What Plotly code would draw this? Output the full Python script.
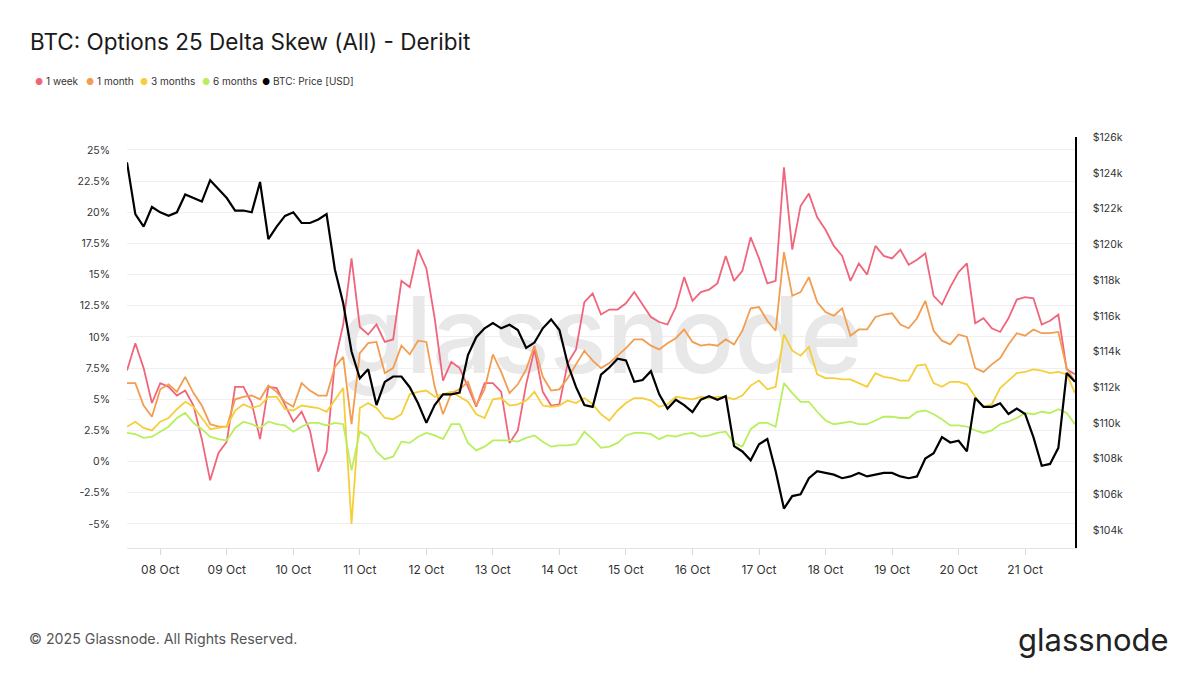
import pandas as pd
import plotly.graph_objects as go

# 3-hourly samples, 07 Oct 12:00 -> 21 Oct 18:00
start_time = "2025-10-07 12:00"
n_points = 115

# 25 delta skew (%)
skew_1w = [7.3, 9.5, 7.5, 4.7, 6.3, 6.0, 5.3, 5.7, 4.5, 1.8, -1.5, 0.7, 1.6, 6.0, 6.0, 4.7,
           1.8, 6.0, 5.9, 4.5, 3.2, 4.0, 2.5, -0.8, 0.8, 8.0, 11.0, 16.3, 10.8, 10.2, 11.0, 9.6,
           9.8, 14.5, 14.0, 17.0, 15.5, 11.5, 6.5, 8.0, 7.5, 6.0, 4.4, 6.3, 6.3, 5.6, 1.5, 2.5,
           6.2, 9.0, 5.6, 4.5, 4.6, 7.9, 9.0, 12.8, 13.5, 11.8, 12.2, 12.2, 12.7, 13.6, 12.6, 11.6,
           11.2, 11.0, 12.4, 14.8, 12.9, 13.6, 13.8, 14.3, 16.5, 14.5, 15.3, 18.0, 16.3, 14.3, 14.5, 23.6,
           17.0, 20.5, 21.5, 19.6, 18.6, 17.3, 16.5, 14.5, 15.9, 15.0, 17.3, 16.5, 16.3, 17.0, 15.8, 16.2,
           16.7, 13.3, 12.6, 14.0, 15.2, 15.9, 11.1, 11.5, 10.7, 10.4, 11.5, 13.0, 13.2, 13.1, 11.0, 11.3,
           11.8, 7.4, 7.0]

skew_1m = [6.3, 6.3, 4.5, 3.6, 5.8, 6.2, 5.6, 6.8, 5.5, 4.5, 3.0, 2.8, 2.8, 5.0, 5.2, 5.3,
           5.0, 6.1, 5.6, 4.8, 4.4, 6.3, 5.7, 5.3, 5.3, 7.6, 8.4, 3.0, 8.7, 9.5, 9.6, 7.1,
           7.5, 9.3, 8.6, 9.7, 9.6, 6.0, 3.8, 5.5, 5.8, 6.4, 4.5, 5.8, 8.6, 7.2, 5.5, 6.2,
           7.4, 9.3, 6.8, 5.7, 5.8, 6.7, 7.8, 8.9, 8.1, 7.5, 7.9, 8.5, 9.1, 9.8, 9.8, 9.3,
           9.0, 9.5, 9.9, 10.6, 9.6, 9.3, 9.4, 9.3, 9.8, 9.4, 10.5, 12.3, 12.4, 11.3, 10.5, 16.8,
           13.3, 13.6, 14.8, 12.8, 12.0, 11.7, 12.3, 10.1, 10.6, 10.6, 11.6, 11.8, 11.9, 11.0, 10.7, 11.5,
           12.9, 10.5, 9.7, 9.4, 10.2, 10.0, 7.5, 7.2, 7.8, 8.3, 9.4, 10.3, 10.1, 10.6, 10.3, 10.3,
           10.4, 7.5, 6.4]

skew_3m = [2.8, 3.2, 2.7, 2.5, 3.2, 3.5, 4.2, 4.8, 4.4, 3.5, 2.6, 2.7, 2.8, 4.1, 4.6, 4.3,
           4.5, 5.2, 5.2, 4.2, 4.1, 4.5, 4.4, 4.3, 4.0, 5.0, 5.9, -5.0, 4.3, 4.7, 4.3, 3.5,
           3.4, 3.8, 5.4, 5.6, 5.7, 5.2, 5.4, 5.6, 5.2, 4.8, 3.8, 3.5, 5.0, 5.1, 4.5, 4.6,
           4.9, 5.6, 4.5, 4.4, 4.5, 4.9, 4.7, 5.1, 4.6, 3.8, 3.3, 4.1, 4.7, 5.1, 5.1, 4.9,
           4.4, 4.6, 5.2, 5.1, 5.0, 5.2, 5.1, 5.2, 5.2, 5.0, 5.3, 6.1, 6.5, 5.8, 6.0, 10.2,
           8.9, 8.5, 9.2, 7.0, 6.7, 6.7, 6.6, 6.6, 6.3, 6.0, 7.1, 6.8, 6.7, 6.5, 6.5, 7.7,
           7.8, 6.3, 6.0, 6.4, 6.4, 6.2, 5.2, 4.4, 4.6, 5.9, 6.5, 7.1, 7.2, 7.4, 7.3, 7.1,
           7.2, 7.0, 5.5]

skew_6m = [2.3, 2.2, 1.9, 2.0, 2.4, 2.8, 3.5, 3.9, 3.1, 2.6, 2.0, 1.8, 1.7, 2.7, 3.2, 3.0,
           2.7, 3.2, 3.0, 2.9, 2.4, 2.8, 3.1, 3.1, 2.9, 3.1, 3.0, -0.7, 2.4, 2.0, 0.8, 0.2,
           0.4, 1.6, 1.5, 2.0, 2.3, 2.1, 1.8, 3.0, 3.0, 1.5, 0.9, 1.2, 1.7, 1.7, 1.7, 1.6,
           1.9, 2.1, 1.6, 1.2, 1.3, 1.3, 1.4, 2.4, 1.8, 1.1, 1.2, 1.5, 2.1, 2.3, 2.3, 2.2,
           1.8, 2.1, 2.0, 2.2, 2.3, 2.0, 2.1, 2.3, 2.4, 1.5, 1.2, 2.6, 3.1, 3.1, 2.8, 6.3,
           5.5, 4.8, 4.8, 4.0, 3.3, 3.0, 3.1, 3.2, 3.0, 3.0, 3.3, 3.6, 3.6, 3.5, 3.5, 4.0,
           4.1, 3.8, 3.4, 2.9, 2.9, 2.8, 2.5, 2.3, 2.5, 3.0, 3.2, 3.5, 3.9, 3.8, 4.0, 3.9,
           4.2, 3.9, 3.0]

# BTC price in thousands of USD
btc_price_k = [124.6, 121.7, 121.0, 122.1, 121.8, 121.6, 121.8, 122.8, 122.6, 122.4, 123.6, 123.1, 122.6, 121.9, 121.9, 121.8,
               123.5, 120.3, 121.0, 121.6, 121.8, 121.2, 121.2, 121.4, 121.7, 118.6, 116.7, 114.0, 112.5, 113.0, 111.0, 112.3,
               112.6, 112.6, 112.0, 111.1, 110.0, 111.0, 111.6, 111.6, 111.7, 113.8, 114.8, 115.3, 115.6, 115.3, 115.5, 115.2,
               114.2, 114.5, 115.3, 115.8, 115.2, 113.3, 112.0, 111.0, 110.9, 112.7, 113.1, 113.6, 113.5, 112.3, 112.4, 112.9,
               111.6, 110.8, 111.3, 111.0, 110.6, 111.3, 111.5, 111.3, 111.5, 108.7, 108.4, 107.9, 108.8, 109.1, 107.3, 105.2,
               105.9, 106.0, 106.9, 107.3, 107.2, 107.1, 106.9, 107.0, 107.2, 107.0, 107.1, 107.2, 107.2, 107.0, 106.9, 107.0,
               108.0, 108.3, 109.2, 108.9, 109.0, 108.4, 111.4, 110.9, 110.9, 111.1, 110.5, 110.8, 110.5, 109.2, 107.6, 107.7,
               108.6, 112.8, 112.3]

series_names = ["1 week", "1 month", "3 months", "6 months"]
series_colors = ["#f0657b", "#f29d50", "#f5cf3a", "#b9ef5e"]
price_name = "BTC: Price [USD]"

pct_ticks = [-5, -2.5, 0, 2.5, 5, 7.5, 10, 12.5, 15, 17.5, 20, 22.5, 25]
pct_labels = ["-5%", "-2.5%", "0%", "2.5%", "5%", "7.5%", "10%", "12.5%", "15%", "17.5%", "20%", "22.5%", "25%"]
price_ticks = list(range(104, 127, 2))
price_labels = [f"${v}k" for v in price_ticks]

times = pd.date_range(start_time, periods=n_points, freq="3h")

# plot area in pixels (1200x675 page)
PL, PR, PT, PB = 127, 1075, 137, 548
pct_range = [-6.93, 26.04]
price_range = [102.99, 126.02]


def px_x(px):
    return (px - PL) / (PR - PL)


def px_y(py):
    return (PB - py) / (PB - PT)


fig = go.Figure()

# watermark, drawn first so the lines sit on top of it
fig.add_trace(go.Scatter(
    x=[times[len(times) // 2]],
    y=[sum(pct_range) / 2 - 0.3],
    mode="text",
    text=["glassnode"],
    textfont=dict(size=106, color="#e8e8e8", family="Inter", weight=500),
    hoverinfo="skip",
    showlegend=False,
))

for name, color, vals in zip(series_names, series_colors, [skew_1w, skew_1m, skew_3m, skew_6m]):
    fig.add_trace(go.Scatter(
        x=times, y=vals, name=name, mode="lines",
        line=dict(color=color, width=1.8),
        showlegend=False,
    ))

fig.add_trace(go.Scatter(
    x=times, y=btc_price_k, name=price_name, mode="lines",
    line=dict(color="#000000", width=2.2),
    yaxis="y2", showlegend=False,
))

fig.update_layout(
    width=1200, height=675,
    margin=dict(l=PL, r=1200 - PR, t=PT, b=675 - PB),
    paper_bgcolor="white", plot_bgcolor="white",
    font=dict(family="Inter", color="#333333"),
    title=dict(
        text="BTC: Options 25 Delta Skew (All) - Deribit",
        x=30 / 1200, xref="container", xanchor="left",
        y=1 - 42 / 675, yref="container", yanchor="middle",
        font=dict(size=22.5, color="#1a1a1a", family="Inter"),
    ),
    xaxis=dict(
        type="date", range=[times[0], times[-1]],
        showgrid=False, zeroline=False,
        showline=True, linecolor="#e3e3e3", linewidth=1,
        ticks="outside", ticklen=6, tickcolor="#d8d8d8",
        ticklabelstandoff=5,
        tick0="2025-10-08", dtick=86400000, tickformat="%d %b",
        tickfont=dict(size=12, color="#333333"),
    ),
    yaxis=dict(
        range=pct_range, tickvals=pct_ticks, ticktext=pct_labels,
        showgrid=True, gridcolor="#efefef", gridwidth=1,
        zeroline=False, showline=False, ticks="",
        ticklabelstandoff=16,
        tickfont=dict(size=10.5, color="#333333"),
    ),
    yaxis2=dict(
        overlaying="y", side="right",
        range=price_range, tickvals=price_ticks, ticktext=price_labels,
        showgrid=False, zeroline=False,
        showline=True, linecolor="#000000", linewidth=1.5, ticks="",
        ticklabelstandoff=14,
        tickfont=dict(size=10.5, color="#333333"),
    ),
)

# legend drawn as dots + labels
legend_x = [33, 84, 138, 200, 260]
for px, name, color in zip(legend_x, series_names + [price_name], series_colors + ["#000000"]):
    fig.add_annotation(
        x=px_x(px), y=px_y(81), xref="paper", yref="paper",
        xanchor="left", yanchor="middle", showarrow=False,
        text=f"<span style='color:{color};font-size:9px'>●</span> {name}",
        font=dict(size=10, color="#333333"),
    )

# footer
fig.add_annotation(
    x=px_x(27), y=px_y(639), xref="paper", yref="paper",
    xanchor="left", yanchor="middle", showarrow=False,
    text="© 2025 Glassnode. All Rights Reserved.",
    font=dict(size=14.2, color="#555555"),
)
fig.add_annotation(
    x=px_x(1171), y=px_y(639), xref="paper", yref="paper",
    xanchor="right", yanchor="middle", showarrow=False,
    text="glassnode",
    font=dict(size=31, color="#222222", family="Inter"),
)

fig.write_html("out.html", config={"displayModeBar": False},
               post_script="document.body.style.margin='0';")
